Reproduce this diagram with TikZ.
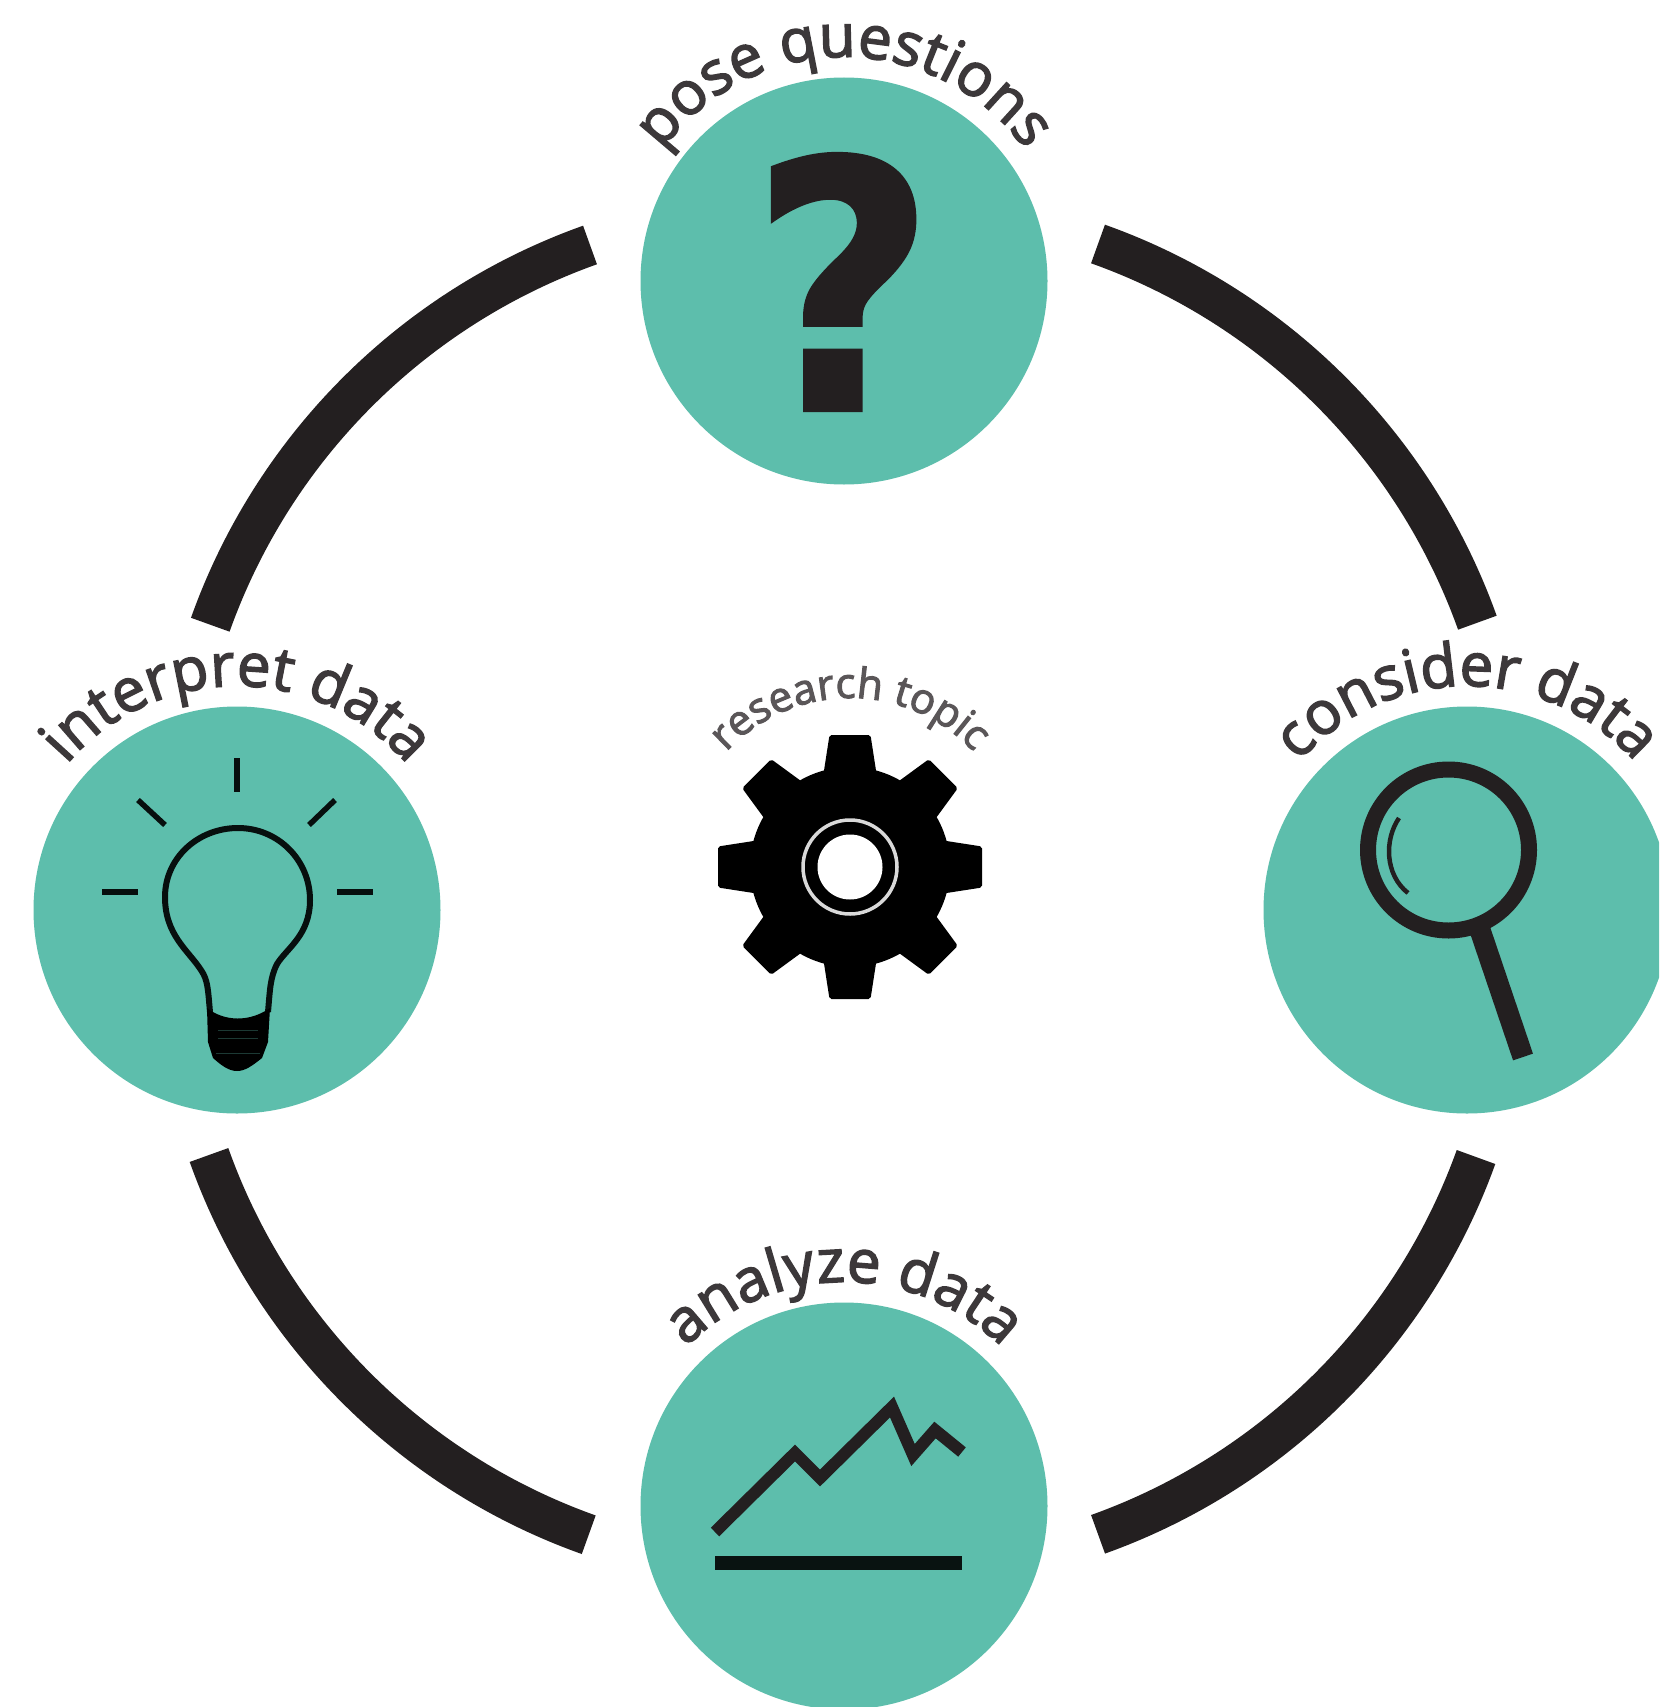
\documentclass[tikz,border=0pt]{standalone}
\usepackage{fontspec}
\setmainfont[FakeBold=2.5]{Open Sans}
\newfontfamily\qfont[FakeStretch=0.92,FakeBold=1]{DejaVu Sans Bold}
\usetikzlibrary{decorations.text}
\definecolor{teal1}{HTML}{5DBEAC}
\definecolor{ink}{HTML}{231F20}
\definecolor{labelgrey}{HTML}{3C383A}
\definecolor{topicgrey}{HTML}{5A5658}
\newcommand{\biglabel}{\fontsize{60}{62}\selectfont\color{labelgrey}}
\newcommand{\smalllabel}{\fontsize{42}{44}\selectfont\color{topicgrey}}
\tikzset{
  x=1pt,y=-1pt,
  stagecircle/.style={circle,fill=teal1,draw=none,minimum size=407pt,inner sep=0pt},
  ringarc/.style={draw=ink,line width=41pt,line cap=butt},
  iconline/.style={draw=ink,line cap=butt,line join=miter},
  bulbline/.style={draw=black!92!teal1,line cap=butt,line join=round},
  darkline/.style={draw=black!90!teal1,line cap=butt},
}
\begin{document}
\begin{tikzpicture}
\fill[white] (0,0) rectangle (1659,1707);
\useasboundingbox (0,0) rectangle (1659,1707);
\begin{scope}
\clip (0,0) rectangle (1659,1707);
% stages
\node[stagecircle] (top) at (844,281) {};
\node[stagecircle] (left) at (237,910) {};
\node[stagecircle] (right) at (1467,910) {};
\node[stagecircle] (bottom) at (844,1506) {};
\coordinate (gear) at (850,867);
% ring arcs
\coordinate (tr) at (1098,244);
\coordinate (tl) at (590,245);
\coordinate (br) at (1476,1157);
\coordinate (bl) at (209,1155);
\draw[ringarc] (tr) arc[start angle=-70.4,end angle=-19.7,radius=626];
\draw[ringarc] (tl) arc[start angle=-109.6,end angle=-160.4,radius=626];
\draw[ringarc] (br) arc[start angle=19.8,end angle=70.3,radius=626];
\draw[ringarc] (bl) arc[start angle=160.4,end angle=109.6,radius=626];
% labels
\path[decorate,decoration={text along path,text align=center,text={|\biglabel|pose questions}}]
  ([shift={(-150:224)}]top.center) arc[start angle=-150,end angle=-30,radius=224];
\path[decorate,decoration={text along path,text align=center,text={|\biglabel|interpret data}}]
  ([shift={(-150:224)}]left.center) arc[start angle=-150,end angle=-30,radius=224];
\path[decorate,decoration={text along path,text align=center,text={|\biglabel|consider data}}]
  ([shift={(-150:224)}]right.center) arc[start angle=-150,end angle=-30,radius=224];
\path[decorate,decoration={text along path,text align=center,text={|\biglabel|analyze data}}]
  ([shift={(-150:224)}]bottom.center) arc[start angle=-150,end angle=-30,radius=224];
\path[decorate,decoration={text along path,text align=center,text={|\smalllabel|research topic}}]
  ([shift={(-160:169)}]gear) arc[start angle=-160,end angle=-20,radius=169];
% question mark
\node[text=ink,inner sep=0pt] (qmark) at (843,282) {\fontsize{346}{350}\selectfont\qfont ?};
% gear
\begin{scope}[shift={(gear)}]
  \fill[black] (0,0) circle[radius=100];
  \foreach \a in {0,45,...,315}{
    \fill[black,rotate=\a,rounded corners=2pt] (-27,-90) -- (-20.5,-132) -- (20.5,-132) -- (27,-90) -- cycle;
  }
  \draw[white!85!black,line width=3.5pt] (0,0) circle[radius=47];
  \fill[white] (0,0) circle[radius=32.5];
\end{scope}
% bulb
\draw[bulbline,line width=5.5pt] (237,758) -- (237,792);
\draw[bulbline,line width=5.5pt] (138,800) -- (165,825);
\draw[bulbline,line width=5.5pt] (335,800) -- (309,825);
\draw[bulbline,line width=5.5pt] (102,892) -- (138,892);
\draw[bulbline,line width=5.5pt] (337,892) -- (373,892);
\draw[bulbline,line width=6pt]
  (210,1012) .. controls (208,990) and (208,980) .. (201,970)
  .. controls (188,950) and (165,935) .. (165,897)
  .. controls (165,858) and (198,828) .. (238,828)
  .. controls (278,828) and (310,860) .. (310,900)
  .. controls (310,935) and (287,948) .. (277,964)
  .. controls (270,978) and (270,990) .. (268,1012);
\fill[black] (207,1008) .. controls (225,1022) and (250,1022) .. (270,1008)
  -- (268,1042) -- (262,1058) .. controls (252,1066) and (245,1071) .. (237,1071)
  .. controls (229,1071) and (222,1066) .. (213,1058) -- (208,1042) -- cycle;
\draw[black!70!teal1,line width=1pt] (218,1030) -- (258,1030) (218,1038) -- (258,1038) (216,1053) -- (260,1053);
% magnifier
\draw[iconline,line width=16pt] (1448.5,850) circle[radius=80.5];
\draw[iconline,line width=21pt] (1478,924) -- (1523,1057);
\draw[iconline,line width=4.5pt] (1399,818) .. controls (1384,840) and (1385,875) .. (1408,893);
% chart
\draw[iconline,line width=12pt] (715,1532) -- (795,1453) -- (820,1478) -- (892,1407) -- (913,1455) -- (935,1430) -- (962,1452);
\draw[darkline,line width=14pt] (715,1563) -- (962,1563);
\end{scope}
\end{tikzpicture}
\end{document}
